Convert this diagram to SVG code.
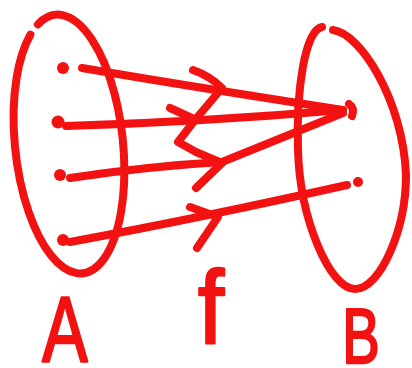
<svg xmlns="http://www.w3.org/2000/svg" width="412" height="368" viewBox="0 0 412 368">
<style>
.s{fill:none;stroke:#f21212;stroke-width:8;stroke-linecap:round;stroke-linejoin:round}
.d{fill:#f21212}
.t{fill:#f21212;stroke:#f21212;stroke-width:2.5;stroke-linejoin:round;font-family:"Liberation Sans",Arial,sans-serif;text-anchor:middle}
</style>
<rect width="412" height="368" fill="#ffffff"/>
<g id="setA">
<path class="s" d="M 37.9 24.4 A 54 130 -6 1 1 30.4 34.8"/>
<circle class="d" cx="63" cy="68" r="6"/>
<circle class="d" cx="58" cy="122" r="6.5"/>
<circle class="d" cx="60" cy="175" r="6"/>
<circle class="d" cx="63" cy="240" r="6"/>
</g>
<g id="setB">
<path class="s" d="M 333 30 C 360 33, 403 100, 406 175 C 406 230, 380 289, 355 289 C 330 289, 300 220, 298 150 C 296 90, 305 30, 322 27"/>
<path class="s" d="M 349 104 Q 355 108 352 116" stroke-width="7"/>
<circle class="d" cx="358" cy="182" r="5"/>
</g>
<g id="connectors">
<path class="s" d="M 82 68 Q 200 88 343 110"/>
<path class="s" d="M 66 126 Q 200 122 343 110"/>
<path class="s" d="M 70 178 Q 150 166 222 162 L 343 113"/>
<path class="s" d="M 70 242 Q 200 218 347 185"/>
<path class="s" d="M 193 70 Q 210 76 222 88 L 195 120 L 178 142 L 196 152 L 222 163 L 196 188"/>
<path class="s" d="M 170 108 L 194 119"/>
<path class="s" d="M 190 207 L 218 217 L 197 248"/>
</g>
<g id="labels">
<text class="t" font-size="92" transform="translate(65,362) scale(0.74,1)">A</text>
<text class="t" font-size="104" transform="translate(211,343) scale(0.9,1)">f</text>
<text class="t" font-size="78" transform="translate(361,363) scale(0.72,1)">B</text>
</g>
</svg>
